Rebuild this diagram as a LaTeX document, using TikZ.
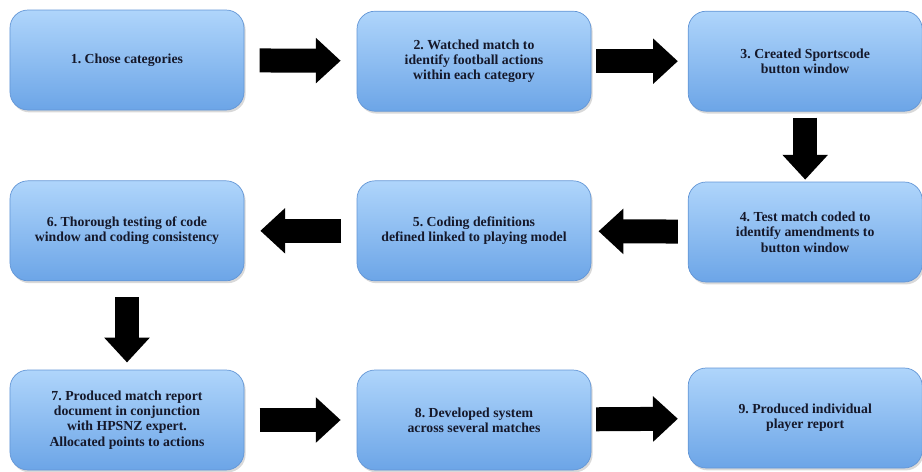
\documentclass[tikz,border=0pt]{standalone}
\usepackage{fontspec}
\setmainfont{Liberation Serif}
\usetikzlibrary{arrows.meta, positioning, shadows}

\definecolor{boxtop}{HTML}{AFD5FB}
\definecolor{boxbot}{HTML}{6CA5E7}
\definecolor{boxedge}{HTML}{6396D6}
\definecolor{stagetext}{HTML}{15182A}

\begin{document}
\frenchspacing
\begin{tikzpicture}[
    stage/.style={draw=boxedge, line width=0.5pt, rounded corners=0.45cm, top color=boxtop, bottom color=boxbot,
      minimum width=5.85cm, minimum height=2.5cm, align=center, text=stagetext,
      font=\fontsize{9.8}{10.9}\selectfont\bfseries,
      drop shadow={opacity=0.3, shadow xshift=0.04cm, shadow yshift=-0.06cm}},
    flow/.style={line width=0.6cm, -{Triangle[length=0.62cm, width=1.1cm]}},
]
  \useasboundingbox (0,0) rectangle (23.05,-11.8);

  \node[stage] (s1) at (3.175,-1.5) {1. Chose categories};
  \node[stage] (s2) at (11.85,-1.53) {2. Watched match to\\identify football actions\\within each category};
  \node[stage] (s3) at (20.13,-1.53) {3. Created Sportscode\\button window};

  \node[stage] (s4) at (20.13,-5.8) {4. Test match coded to\\identify amendments to\\button window};
  \node[stage] (s5) at (11.85,-5.77) {5. Coding definitions\\defined linked to playing model};
  \node[stage] (s6) at (3.175,-5.77) {6. Thorough testing of code\\window and coding consistency};

  \node[stage] (s7) at (3.175,-10.5) {7. Produced match report\\document in conjunction\\with HPSNZ expert.\\Allocated points to actions};
  \node[stage] (s8) at (11.85,-10.5) {8. Developed system\\across several matches};
  \node[stage] (s9) at (20.13,-10.45) {9. Produced individual\\player report};

  \draw[flow, shorten <=0.38cm, shorten >=0.4cm] (s1) -- (s2);
  \draw[flow, shorten <=0.12cm, shorten >=0.25cm] (s2) -- (s3);
  \draw[flow, shorten <=0.15cm, shorten >=0.05cm] (s3) -- (s4);
  \draw[flow, shorten <=0.25cm, shorten >=0.18cm] (s4) -- (s5);
  \draw[flow, shorten <=0.38cm, shorten >=0.4cm] (s5) -- (s6);
  \draw[flow, shorten <=0.4cm, shorten >=0.18cm] (s6) -- (s7);
  \draw[flow, shorten <=0.38cm, shorten >=0.4cm] (s7) -- (s8);
  \draw[flow, shorten <=0.12cm, shorten >=0.25cm] (s8) -- (s9);
\end{tikzpicture}
\end{document}
